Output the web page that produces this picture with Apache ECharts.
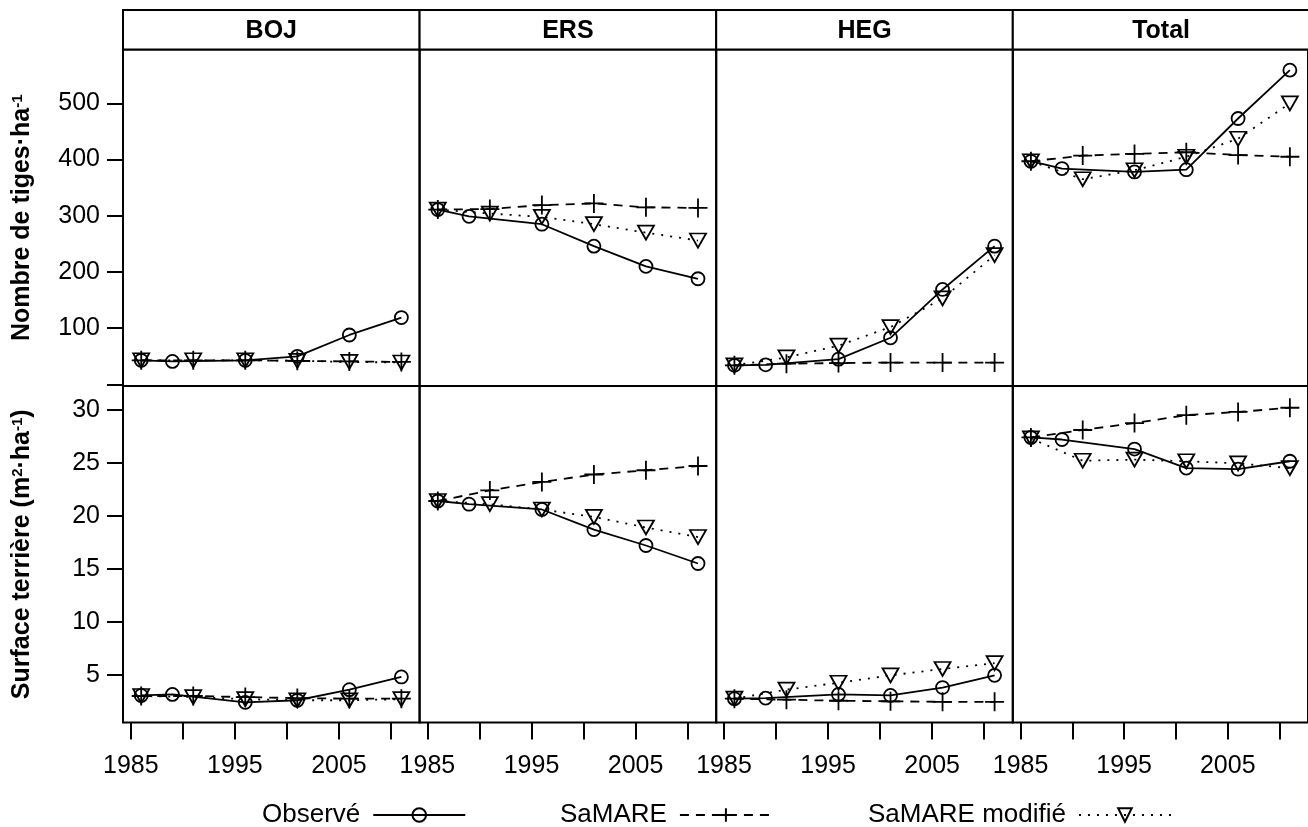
<!DOCTYPE html>
<html>
<head>
<meta charset="utf-8">
<script src="https://cdn.jsdelivr.net/npm/echarts@6/dist/echarts.min.js"></script>
<style>html,body{margin:0;padding:0;background:#fff}#c{width:1308px;height:827px}</style>
</head>
<body>
<div id="c"></div>
<script>
// ---------- data ----------
const stands = ['BOJ', 'ERS', 'HEG', 'Total'];
const yearsObs = [1986, 1989, 1996, 2001, 2006, 2011];
const yearsSim = [1986, 1991, 1996, 2001, 2006, 2011];

// Nombre de tiges·ha-1 (rows: BOJ, ERS, HEG, Total)
const tigesObserve = [
  [43, 41, 43, 50, 88, 119],
  [311, 299, 285, 246, 210, 188],
  [34, 35, 45, 83, 169, 246],
  [397, 384, 378, 382, 473, 559]
];
const tigesSaMARE = [
  [43, 43, 43, 42, 41, 40],
  [311, 312, 319, 322, 315, 314],
  [34, 37, 38, 39, 39, 39],
  [397, 407, 410, 413, 408, 405]
];
const tigesModifie = [
  [43, 43, 43, 42, 40, 39],
  [311, 304, 298, 285, 270, 256],
  [34, 48, 69, 102, 153, 230],
  [397, 365, 381, 405, 437, 500]
];
// Surface terrière (m2·ha-1)
const surfObserve = [
  [3.05, 3.15, 2.4, 2.6, 3.6, 4.8],
  [21.4, 21.1, 20.6, 18.7, 17.2, 15.5],
  [2.75, 2.8, 3.15, 3.05, 3.8, 4.95],
  [27.4, 27.2, 26.3, 24.5, 24.4, 25.15]
];
const surfSaMARE = [
  [3.0, 3.0, 2.9, 2.8, 2.75, 2.75],
  [21.4, 22.4, 23.2, 23.9, 24.3, 24.7],
  [2.75, 2.65, 2.55, 2.5, 2.45, 2.45],
  [27.4, 28.1, 28.75, 29.5, 29.8, 30.2]
];
const surfModifie = [
  [3.0, 2.9, 2.7, 2.6, 2.6, 2.7],
  [21.4, 21.1, 20.6, 19.9, 18.9, 18.0],
  [2.75, 3.6, 4.25, 4.95, 5.55, 6.1],
  [27.3, 25.2, 25.3, 25.15, 24.95, 24.5]
];

const xTicks = [1985, 1990, 1995, 2000, 2005, 2010];
const xLabels = [1985, 1995, 2005];
const yTicksTop = [0, 100, 200, 300, 400, 500];
const yLabelsTop = [100, 200, 300, 400, 500];
const yTicksBottom = [5, 10, 15, 20, 25, 30];
const seriesNames = ['Observé', 'SaMARE', 'SaMARE modifié'];

// ---------- layout ----------
const FONT = '"Liberation Sans", Arial, Helvetica, sans-serif';
const plotLeft = 123, colW = 296.6;
const stripTop = 10, stripH = 39.5;
const rowTop = [49.5, 386], rowH = 336.5;
const xRange = [1984.25, 2012.75];
const yRanges = [[-2.75, 595.75], [0.5, 32.25]];

const grids = [], xAxes = [], yAxes = [], series = [], graphics = [];
const rowsData = [
  [tigesObserve, tigesSaMARE, tigesModifie],
  [surfObserve, surfSaMARE, surfModifie]
];
const yTicks = [yTicksTop, yTicksBottom];
const yLabels = [yLabelsTop, yTicksBottom];
const yNames = [
  '{b|Nombre de tiges·ha}{s|-1}',
  '{b|Surface terrière (m}{s|2}{b|·ha}{s|-1}{b|)}'
];

const symCircle = 'circle';
const symPlus = 'path://M10 0 L10 20 M0 10 L20 10';
const symTri = 'path://M0 0 L20 0 L10 17 Z';
const styles = [
  { symbol: symCircle, symbolSize: 13, line: 'solid' },
  { symbol: symPlus, symbolSize: 19, line: [9, 7] },
  { symbol: symTri, symbolSize: [16, 14], line: [2, 7] }
];

function pairs(years, vals) { return years.map((y, i) => [y, vals[i]]); }
const plain = v => String(v);

for (let r = 0; r < 2; r++) {
  for (let c = 0; c < 4; c++) {
    const idx = r * 4 + c;
    grids.push({
      left: plotLeft + c * colW, top: rowTop[r], width: colW, height: rowH,
      show: true, borderColor: '#000', borderWidth: 2, backgroundColor: 'transparent'
    });
    xAxes.push({
      type: 'value', gridIndex: idx, min: xRange[0], max: xRange[1],
      axisLine: { show: false }, splitLine: { show: false },
      axisTick: { show: r === 1, customValues: xTicks, length: 17, lineStyle: { color: '#000', width: 2 } },
      axisLabel: { show: r === 1, customValues: xLabels, formatter: plain, fontSize: 25, color: '#000', fontFamily: FONT, margin: 31 }
    });
    yAxes.push({
      type: 'value', gridIndex: idx, min: yRanges[r][0], max: yRanges[r][1],
      axisLine: { show: false }, splitLine: { show: false },
      axisTick: { show: c === 0, customValues: yTicks[r], length: 16, lineStyle: { color: '#000', width: 2 } },
      axisLabel: { show: c === 0, customValues: yLabels[r], formatter: plain, fontSize: 25, color: '#000', fontFamily: FONT, margin: 23 },
      name: c === 0 ? yNames[r] : '',
      nameLocation: 'middle', nameGap: 88,
      nameTextStyle: {
        color: '#000',
        rich: {
          b: { fontSize: 25, fontWeight: 'bold', fontFamily: FONT, color: '#000' },
          s: { fontSize: 15, fontWeight: 'bold', fontFamily: FONT, color: '#000', verticalAlign: 'top' }
        }
      }
    });
    for (let s = 0; s < 3; s++) {
      const st = styles[s];
      series.push({
        type: 'line', name: seriesNames[s],
        xAxisIndex: idx, yAxisIndex: idx,
        data: pairs(s === 0 ? yearsObs : yearsSim, rowsData[r][s][c]),
        symbol: st.symbol, symbolSize: st.symbolSize,
        lineStyle: { color: '#000', width: 1.8, type: st.line },
        itemStyle: { color: 'rgba(0,0,0,0)', borderColor: '#000', borderWidth: 1.8 },
        emphasis: { disabled: true },
        z: 3 + s
      });
    }
  }
}

for (let c = 0; c < 4; c++) {
  const x = plotLeft + c * colW;
  graphics.push({
    type: 'rect', shape: { x: x, y: stripTop, width: colW, height: stripH },
    style: { fill: '#fff', stroke: '#000', lineWidth: 2 }
  });
  graphics.push({
    type: 'text', x: x + colW / 2, y: stripTop + stripH / 2 + 1,
    style: { text: stands[c], fill: '#000', font: 'bold 25px ' + FONT, align: 'center', verticalAlign: 'middle' }
  });
}

const legendLefts = [257, 555, 863];
const legends = seriesNames.map((n, i) => ({
  data: [n], left: legendLefts[i], top: 797, align: 'right',
  itemWidth: 92, itemHeight: 17, selectedMode: false,
  textStyle: { fontSize: 26, color: '#000', fontFamily: FONT, padding: [0, 8, 0, 0] }
}));

const chart = echarts.init(document.getElementById('c'), null, { renderer: 'canvas' });
chart.setOption({
  backgroundColor: '#fff',
  animation: false,
  textStyle: { fontFamily: FONT },
  grid: grids, xAxis: xAxes, yAxis: yAxes, series: series,
  legend: legends,
  graphic: graphics
});
</script>
</body>
</html>
